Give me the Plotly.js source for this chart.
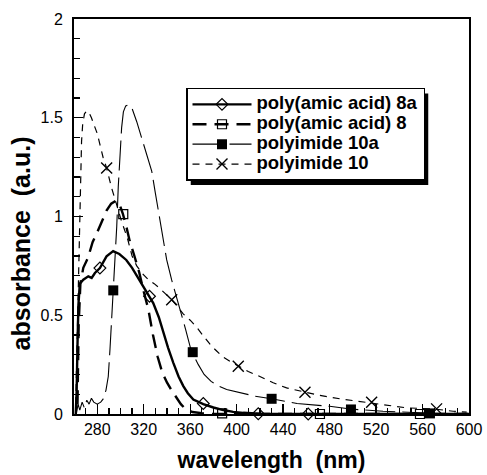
<!DOCTYPE html>
<html>
<head>
<meta charset="utf-8">
<script src="https://cdn.plot.ly/plotly-3.0.1.min.js"></script>
<style>html,body{margin:0;padding:0;background:#fff;}#chart{width:487px;height:475px;}</style>
</head>
<body>
<div id="chart"></div>
<script>
// ---- data ----
var names = ["poly(amic acid) 8a", "poly(amic acid) 8", "polyimide 10a", "polyimide 10"];

// poly(amic acid) 8a : solid thick line, open diamonds
var paa8aX = [261.5,262.3,263,263.8,265,268,272.3,275.2,278,282.3,288,293.7,299,305,310,315,320,325,328.2,333,337,341,345.5,350,354.1,358,362.7,367,371.3,380,388.5,397,405.7,420,440,470,520,600];
var paa8aY = [0,0.12,0.35,0.55,0.66,0.68,0.697,0.689,0.714,0.739,0.798,0.825,0.81,0.78,0.74,0.69,0.645,0.596,0.562,0.49,0.41,0.335,0.259,0.19,0.141,0.105,0.073,0.06,0.05,0.033,0.02,0.011,0.006,0.002,0.001,0,0,0];
var paa8aMX = [282.3,325,371.3,418.6,461.6];
var paa8aMY = [0.739,0.596,0.053,0.001,0];

// poly(amic acid) 8 : thick dashed line, open squares
var paa8X = [263,264,265.5,268,272,276,280,284,288,292,296,299,302,305,308,312,316,320,324,328,332,336,340,344,348,352,356,362,370,380,420,500,600];
var paa8Y = [0.05,0.45,0.66,0.74,0.79,0.87,0.92,0.98,1.03,1.065,1.08,1.065,1.015,0.95,0.875,0.8,0.72,0.62,0.53,0.4,0.29,0.21,0.16,0.12,0.085,0.05,0.025,0.01,0.004,0,0,0,0];
var paa8MX = [302.4,387.5,471.7,557.8];
var paa8MY = [1.012,0.003,0,0];

// polyimide 10a : thin long-dash line, filled squares
var pi10aX = [262,263.5,265,267,269,271,273,275,277,280,283,285,287.5,289.5,291,292.4,293.8,295.3,296.8,298.1,299.5,301,302.5,304.5,306.5,309.5,314,318.3,322.5,326.9,330,332.5,336,339.8,344,348,352,356,360,363.5,367,372,378,385,391.4,403,416,430,452,480,498,526,550,566,575];
var pi10aY = [0,0.05,0.02,0.06,0.03,0.07,0.05,0.08,0.06,0.05,0.06,0.075,0.12,0.19,0.33,0.48,0.63,0.75,0.95,1.15,1.3,1.45,1.53,1.56,1.565,1.555,1.48,1.4,1.32,1.23,1.12,1.03,0.9,0.78,0.68,0.6,0.52,0.43,0.34,0.29,0.25,0.2,0.165,0.14,0.124,0.107,0.09,0.077,0.053,0.039,0.025,0.014,0.007,0.003,0.002];
var pi10aMX = [293.8,362.2,430.1,498.4,566.4];
var pi10aMY = [0.626,0.313,0.077,0.023,0.003];

// polyimide 10 : thin short-dash line, x markers
var pi10X = [261.5,262.5,263.5,264.5,265.5,266.5,267.5,269,271,273,275,277,280,282.4,285,288.1,292.4,296.7,301,306,310,314,319,324,329,334,338.3,344.1,349,354,360,366,372,378.5,383,388,394.3,401.4,410,420,431.5,443,458.8,471.7,489,503.3,516.2,532,546.3,560,572.1,586.4,598];
var pi10Y = [0.05,0.3,0.65,0.95,1.2,1.38,1.47,1.52,1.535,1.525,1.5,1.47,1.42,1.363,1.3,1.245,1.144,1.06,0.975,0.89,0.8,0.75,0.71,0.68,0.66,0.635,0.613,0.579,0.545,0.507,0.475,0.436,0.39,0.343,0.318,0.29,0.267,0.242,0.215,0.19,0.158,0.132,0.11,0.094,0.077,0.065,0.058,0.043,0.031,0.028,0.024,0.014,0.009];
var pi10MX = [288.1,344.1,401.4,458.8,516.2,572.1];
var pi10MY = [1.245,0.579,0.242,0.11,0.06,0.026];

var xTickVals = [280,320,360,400,440,480,520,560,600];
var yTickVals = [0,0.5,1,1.5,2];

// ---- styles ----
var lineStyles = [
  {color:"#000", width:2.4, dash:"solid"},
  {color:"#000", width:2.4, dash:"14px,8px"},
  {color:"#000", width:1.1, dash:"30px,7px"},
  {color:"#000", width:1.2, dash:"7px,6px"}
];
var markerStyles = [
  {symbol:"diamond-open", size:9, color:"#000", line:{color:"#000", width:1.2}},
  {symbol:"square-open", size:9, color:"#000", line:{color:"#000", width:1.2}},
  {symbol:"square", size:10, color:"#000", line:{color:"#000", width:0}},
  {symbol:"x-thin-open", size:11, color:"#000", line:{color:"#000", width:1.4}}
];

var lineX = [paa8aX, paa8X, pi10aX, pi10X];
var lineY = [paa8aY, paa8Y, pi10aY, pi10Y];
var markX = [paa8aMX, paa8MX, pi10aMX, pi10MX];
var markY = [paa8aMY, paa8MY, pi10aMY, pi10MY];

var traces = [];
var order = [3,2,1,0];
order.forEach(function(i){
  traces.push({x:lineX[i], y:lineY[i], type:"scatter", mode:"lines", line:lineStyles[i], showlegend:false, hoverinfo:"skip"});
});
order.forEach(function(i){
  traces.push({x:markX[i], y:markY[i], type:"scatter", mode:"markers", marker:markerStyles[i], showlegend:false, cliponaxis:false});
});
// legend entries (line sample with a marker in the middle)
for (var i = 0; i < 4; i++) {
  traces.push({x:[null], y:[null], type:"scatter", mode:"lines+markers", name:'<span style="font-size:18.5px">' + names[i] + '</span>', line:lineStyles[i], marker:markerStyles[i], showlegend:true});
}

var F = "Liberation Sans, Arial, Helvetica, sans-serif";
var L = 74, R = 18, T = 19, B = 60.5;
var pw = 487 - L - R, ph = 475 - T - B;
function pxX(p){ return (p - L) / pw; }
function pxY(p){ return 1 - (p - T) / ph; }

var layout = {
  width:487, height:475,
  margin:{l:L, r:R, t:T, b:B, pad:0},
  paper_bgcolor:"#fff", plot_bgcolor:"#fff",
  font:{family:F, size:16, color:"#000"},
  showlegend:true,
  legend:{x:pxX(186), y:pxY(88), xanchor:"left", yanchor:"top", bgcolor:"#fff", bordercolor:"#000", borderwidth:1.5,
          font:{family:F, size:13, color:"#000", weight:"bold"}, itemwidth:59, traceorder:"normal", itemclick:false},
  xaxis:{range:[260,600], tickmode:"array", tickvals:xTickVals, ticks:"inside", ticklen:10, tickwidth:1.3, tickcolor:"#000",
         minor:{dtick:10, tick0:260, ticks:"inside", ticklen:6, tickwidth:1.3, tickcolor:"#000", showgrid:false},
         showline:true, linewidth:2, linecolor:"#000", mirror:true, showgrid:false, zeroline:false,
         tickfont:{family:F, size:16, color:"#000"},
         title:{text:"wavelength  (nm)", font:{family:F, size:23, color:"#000", weight:"bold"}, standoff:15}},
  yaxis:{range:[0,2], tickmode:"array", tickvals:yTickVals, ticks:"inside", ticklen:9, tickwidth:1.3, tickcolor:"#000",
         minor:{dtick:0.1, tick0:0, ticks:"inside", ticklen:6, tickwidth:1.3, tickcolor:"#000", showgrid:false},
         showline:true, linewidth:2, linecolor:"#000", mirror:true, showgrid:false, zeroline:false, ticklabelstandoff:6,
         tickfont:{family:F, size:16, color:"#000"}},
  annotations:[{text:"absorbance  (a.u.)", textangle:-90, xref:"paper", yref:"paper", x:-0.135, y:0.431,
                xanchor:"center", yanchor:"middle", showarrow:false, font:{family:F, size:25, color:"#000", weight:"bold"}}],
  // drop shadow behind the legend box (initial estimate, refined after render)
  shapes:[{type:"rect", xref:"paper", yref:"paper", layer:"above",
           x0:pxX(190), x1:pxX(444), y0:pxY(183), y1:pxY(92), fillcolor:"#000", line:{width:0}}]
};

var gd = document.getElementById("chart");
Plotly.newPlot(gd, traces, layout, {staticPlot:true, displayModeBar:false}).then(function(){
  var bg = gd.querySelector(".legend .bg");
  if (!bg) return;
  var r = bg.getBoundingClientRect();
  var c = gd.getBoundingClientRect();
  var offX = 4, offY = 5;
  return Plotly.relayout(gd, {
    "shapes[0].x0": pxX(r.left - c.left + offX), "shapes[0].x1": pxX(r.right - c.left + offX),
    "shapes[0].y0": pxY(r.bottom - c.top + offY), "shapes[0].y1": pxY(r.top - c.top + offY)});
});
</script>
</body>
</html>
